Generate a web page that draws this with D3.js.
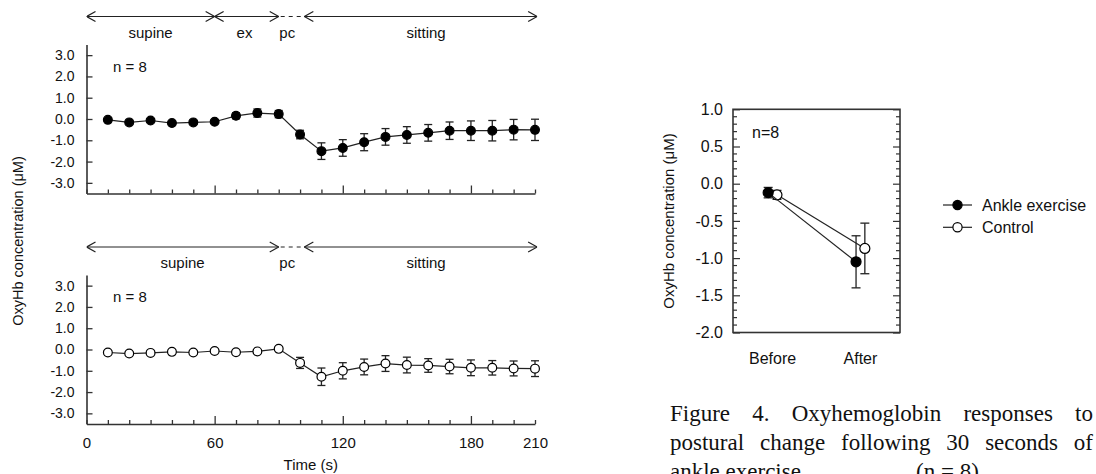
<!DOCTYPE html>
<html>
<head>
<meta charset="utf-8">
<script src="https://cdn.jsdelivr.net/npm/d3@7"></script>
<style>
  body { margin: 0; background: #fff; }
  svg { display: block; }
  text { font-family: "Liberation Sans", Arial, sans-serif; fill: #111; }
  .cap { font-family: "Liberation Serif", "Times New Roman", serif; font-size: 23px; }
</style>
</head>
<body>
<svg width="1096" height="474"></svg>
<script>

// time points (s)
var times = [10, 20, 30, 40, 50, 60, 70, 80, 90, 100, 110, 120, 130, 140, 150, 160, 170, 180, 190, 200, 210];

// ankle exercise trial (top panel)
var exMean = [-0.04, -0.16, -0.07, -0.19, -0.16, -0.13, 0.15, 0.28, 0.23, -0.73, -1.51, -1.36, -1.09, -0.84, -0.75, -0.65, -0.55, -0.55, -0.55, -0.50, -0.51];
var exErr  = [0.05, 0.05, 0.05, 0.06, 0.05, 0.05, 0.14, 0.19, 0.17, 0.20, 0.39, 0.39, 0.40, 0.39, 0.39, 0.39, 0.41, 0.46, 0.48, 0.48, 0.50];

// control trial (bottom panel)
var ctlMean = [-0.14, -0.19, -0.16, -0.11, -0.14, -0.07, -0.13, -0.09, 0.03, -0.63, -1.28, -1.00, -0.82, -0.66, -0.73, -0.75, -0.80, -0.86, -0.86, -0.89, -0.90];
var ctlErr  = [0.05, 0.05, 0.05, 0.05, 0.05, 0.05, 0.05, 0.05, 0.05, 0.26, 0.41, 0.38, 0.37, 0.37, 0.37, 0.32, 0.34, 0.37, 0.34, 0.35, 0.37];

var yTicks = [-3, -2, -1, 0, 1, 2, 3];
var xLabels = [0, 60, 120, 180, 210];
var xMajor = [60, 120, 180];

// phases (s)
var topPhases = [
  {label: "supine", from: 0, to: 60, at: 30},
  {label: "ex", from: 60, to: 90, at: 74},
  {label: "pc", from: 90, to: 102, at: 94, dashed: true},
  {label: "sitting", from: 102, to: 211, at: 159}
];
var botPhases = [
  {label: "supine", from: 0, to: 90, at: 45},
  {label: "pc", from: 90, to: 102, at: 94, dashed: true},
  {label: "sitting", from: 102, to: 211, at: 159}
];

// right panel: before / after
var groups = ["Before", "After"];
var ankleMean = [-0.12, -1.05];
var ankleErr = [0.07, 0.35];
var controlMean = [-0.15, -0.87];
var controlErr = [0.06, 0.34];
var rightTicks = [1.0, 0.5, 0.0, -0.5, -1.0, -1.5, -2.0];

var svg = d3.select("svg");
var ink = "#222";
var fmt = function(d) { return d.toFixed(1); };   // plain hyphen minus like the original

// arrow head markers
var defs = svg.append("defs");
function head(id, flip) {
  defs.append("marker").attr("id", id)
    .attr("viewBox", "0 0 10 12").attr("refX", flip ? 0 : 10).attr("refY", 6)
    .attr("markerWidth", 10).attr("markerHeight", 12).attr("markerUnits", "userSpaceOnUse")
    .attr("orient", "auto")
    .append("path").attr("d", flip ? "M9,1 L0,6 L9,11" : "M1,1 L10,6 L1,11")
    .attr("fill", "none").attr("stroke", ink).attr("stroke-width", 1.2);
}
head("hEnd", false);
head("hStart", true);

var x = d3.scaleLinear().domain([0, 210]).range([86.5, 535]);

function panel(top, mean, err, phases, open, showLabels) {
  var y = d3.scaleLinear().domain([-3.5, 3.5]).range([top + 149, top]);
  var g = svg.append("g");

  // phase arrows
  var ay = top - 28;
  phases.forEach(function(p) {
    var l = g.append("line")
      .attr("x1", x(p.from)).attr("x2", x(p.to))
      .attr("y1", ay).attr("y2", ay)
      .attr("stroke", ink).attr("stroke-width", 1);
    if (p.dashed) l.attr("stroke-dasharray", "4,4").attr("x1", x(p.from) + 2);
    else l.attr("marker-start", "url(#hStart)").attr("marker-end", "url(#hEnd)");
    g.append("text").attr("x", x(p.at)).attr("y", ay + 21)
      .attr("text-anchor", "middle").style("font-size", "15px").text(p.label);
  });

  // y axis
  var ya = g.append("g").attr("transform", "translate(" + x(0) + ",0)")
    .call(d3.axisLeft(y).tickValues(yTicks).tickSizeInner(-6).tickSizeOuter(0)
      .tickPadding(12).tickFormat(fmt));
  ya.selectAll("text").style("font-size", "14px");

  // x axis
  var xa = g.append("g").attr("transform", "translate(0," + y(-3.5) + ")")
    .call(d3.axisBottom(x).tickValues(d3.range(0, 211, 10)).tickSizeInner(-4).tickSizeOuter(0)
      .tickPadding(13)
      .tickFormat(function(d) { return showLabels && xLabels.indexOf(d) >= 0 ? d : ""; }));
  xa.selectAll(".tick line").attr("y2", function(d) { return xMajor.indexOf(d) >= 0 ? -8 : -4; });
  xa.selectAll("text").style("font-size", "15px");

  [ya, xa].forEach(function(a) {
    a.select(".domain").attr("stroke", "#333").attr("stroke-width", 1.6);
    a.selectAll(".tick line").attr("stroke", "#333").attr("stroke-width", 1.3);
    a.selectAll("text").style("fill", "#111").style("font-family", "'Liberation Sans', Arial, sans-serif");
  });

  g.append("text").attr("x", 113).attr("y", top + 27).style("font-size", "15px").text("n = 8");

  var pts = times.map(function(t, i) { return {t: t, m: mean[i], e: err[i]}; });

  // error bars
  var eb = g.selectAll(".eb").data(pts).enter().append("g");
  eb.append("line").attr("x1", function(d) { return x(d.t); }).attr("x2", function(d) { return x(d.t); })
    .attr("y1", function(d) { return y(d.m - d.e); }).attr("y2", function(d) { return y(d.m + d.e); });
  eb.append("line").attr("x1", function(d) { return x(d.t) - 4; }).attr("x2", function(d) { return x(d.t) + 4; })
    .attr("y1", function(d) { return y(d.m + d.e); }).attr("y2", function(d) { return y(d.m + d.e); });
  eb.append("line").attr("x1", function(d) { return x(d.t) - 4; }).attr("x2", function(d) { return x(d.t) + 4; })
    .attr("y1", function(d) { return y(d.m - d.e); }).attr("y2", function(d) { return y(d.m - d.e); });
  eb.selectAll("line").attr("stroke", ink).attr("stroke-width", 1.3);

  g.append("path").datum(pts)
    .attr("d", d3.line().x(function(d) { return x(d.t); }).y(function(d) { return y(d.m); }))
    .attr("fill", "none").attr("stroke", ink).attr("stroke-width", 1.2);

  g.selectAll(".dot").data(pts).enter().append("circle")
    .attr("cx", function(d) { return x(d.t); }).attr("cy", function(d) { return y(d.m); })
    .attr("r", 4.4)
    .attr("fill", open ? "#fff" : "#000").attr("stroke", "#000").attr("stroke-width", 1.2);
}

panel(44.5, exMean, exErr, topPhases, false, false);
panel(275, ctlMean, ctlErr, botPhases, true, true);

svg.append("text").attr("x", x(105)).attr("y", 470).attr("text-anchor", "middle")
  .style("font-size", "15px").text("Time (s)");

svg.append("text").attr("transform", "translate(23,241) rotate(-90)")
  .attr("text-anchor", "middle").style("font-size", "14.5px").text("OxyHb concentration (\u03bcM)");

// ---- right panel ----
var rx = d3.scalePoint().domain(groups).range([733, 900]).padding(0.45);
var ry = d3.scaleLinear().domain([-2, 1]).range([332.5, 109.3]);
var rg = svg.append("g");

rg.append("rect").attr("x", 733).attr("y", ry(1)).attr("width", 167).attr("height", ry(-2) - ry(1))
  .attr("fill", "none").attr("stroke", "#333").attr("stroke-width", 1.6);

var la = rg.append("g").attr("transform", "translate(733,0)")
  .call(d3.axisLeft(ry).tickValues(rightTicks).tickSizeInner(-7).tickSizeOuter(0)
    .tickPadding(10).tickFormat(fmt));
var minor = d3.range(-19, 10).map(function(v) { return v / 10; }).filter(function(v) { return Math.abs(v * 2 - Math.round(v * 2)) > 1e-6; });
rg.append("g").selectAll("line").data(minor).enter().append("line")
  .attr("x1", 733).attr("x2", 737).attr("y1", ry).attr("y2", ry);
var ra = rg.append("g").attr("transform", "translate(900,0)")
  .call(d3.axisRight(ry).tickValues(rightTicks).tickSizeInner(-7).tickSizeOuter(0).tickFormat(""));
rg.append("g").selectAll("line").data(minor).enter().append("line")
  .attr("x1", 896).attr("x2", 900).attr("y1", ry).attr("y2", ry);
rg.selectAll("line").attr("stroke", "#333").attr("stroke-width", 1.2);
la.select(".domain").remove();
ra.select(".domain").remove();
la.selectAll("text").style("font-size", "16px").style("fill", "#111");

rg.selectAll(".grp").data(groups).enter().append("text")
  .attr("x", function(d) { return rx(d); }).attr("y", 364)
  .attr("text-anchor", "middle").style("font-size", "16px").text(function(d) { return d; });

rg.append("text").attr("x", 752).attr("y", 138).style("font-size", "16px").text("n=8");

rg.append("text").attr("transform", "translate(674,221) rotate(-90)")
  .attr("text-anchor", "middle").style("font-size", "15px").text("OxyHb concentration (\u03bcM)");

function series(mean, err, dx, open) {
  var pts = groups.map(function(gname, i) { return {x: rx(gname) + dx, m: mean[i], e: err[i]}; });
  var s = rg.append("g");
  s.append("path").datum(pts)
    .attr("d", d3.line().x(function(d) { return d.x; }).y(function(d) { return ry(d.m); }))
    .attr("fill", "none").attr("stroke", ink).attr("stroke-width", 1.2);
  pts.forEach(function(d) {
    s.append("line").attr("x1", d.x).attr("x2", d.x).attr("y1", ry(d.m - d.e)).attr("y2", ry(d.m + d.e));
    s.append("line").attr("x1", d.x - 4.5).attr("x2", d.x + 4.5).attr("y1", ry(d.m + d.e)).attr("y2", ry(d.m + d.e));
    s.append("line").attr("x1", d.x - 4.5).attr("x2", d.x + 4.5).attr("y1", ry(d.m - d.e)).attr("y2", ry(d.m - d.e));
  });
  s.selectAll("line").attr("stroke", ink).attr("stroke-width", 1.3);
  s.selectAll("circle").data(pts).enter().append("circle")
    .attr("cx", function(d) { return d.x; }).attr("cy", function(d) { return ry(d.m); })
    .attr("r", 5).attr("fill", open ? "#fff" : "#000").attr("stroke", "#000").attr("stroke-width", 1.2);
}
series(controlMean, controlErr, 4.4, true);
series(ankleMean, ankleErr, -4.4, false);

// legend
var legend = [{name: "Ankle exercise", open: false}, {name: "Control", open: true}];
var lg = svg.append("g").selectAll("g").data(legend).enter().append("g")
  .attr("transform", function(d, i) { return "translate(943," + (205 + i * 22.3) + ")"; });
lg.append("line").attr("x1", 0).attr("x2", 29).attr("stroke", ink).attr("stroke-width", 1.2);
lg.append("circle").attr("cx", 14.5).attr("r", 4.6)
  .attr("fill", function(d) { return d.open ? "#fff" : "#000"; }).attr("stroke", "#000").attr("stroke-width", 1.2);
lg.append("text").attr("x", 39).attr("y", 5.5).style("font-size", "16px").text(function(d) { return d.name; });

// caption (justified lines)
var capLines = [
  "Figure 4. Oxyhemoglobin responses to",
  "postural change following 30 seconds of"
];
function justify(line, yb) {
  var words = line.split(" ");
  var nodes = words.map(function(w) {
    return svg.append("text").attr("class", "cap").attr("y", yb).text(w);
  });
  var widths = nodes.map(function(n) { return n.node().getComputedTextLength(); });
  var gap = (1093 - 670 - d3.sum(widths)) / (words.length - 1);
  var cx = 670;
  nodes.forEach(function(n, i) { n.attr("x", cx); cx += widths[i] + gap; });
}
capLines.forEach(function(l, i) { justify(l, 421 + i * 29); });
// last line is cut by the bottom edge in the original figure
svg.append("text").attr("class", "cap").attr("x", 670).attr("y", 479).text("ankle exercise");
svg.append("text").attr("class", "cap").attr("x", 916).attr("y", 479).text("(n = 8)");

</script>
</body>
</html>
